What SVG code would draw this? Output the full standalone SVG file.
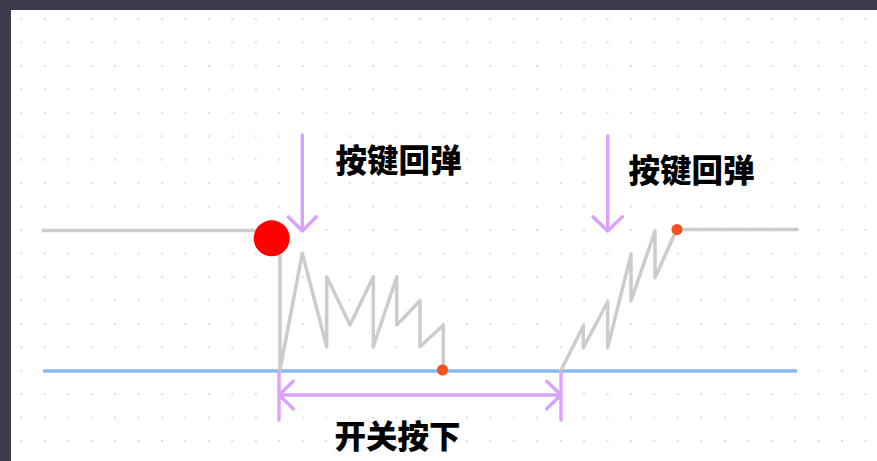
<svg xmlns="http://www.w3.org/2000/svg" width="877" height="461" viewBox="0 0 877 461">
<defs>
<pattern id="dotsAligned" patternUnits="userSpaceOnUse" x="20.3" y="18" width="23.45" height="23.45">
<rect x="0" y="0" width="2" height="2" fill="#dcdcdc"/>
</pattern>
</defs>
<style>
.sig{fill:none;stroke:#cccccc;stroke-width:3.5;stroke-linecap:round;stroke-linejoin:round}
.base{fill:none;stroke:#8ab8f7;stroke-width:3.5}
.arr{fill:none;stroke:#d9a2fc;stroke-width:3.4;stroke-linecap:round;stroke-linejoin:round}
.lbl{font-family:"Noto Sans CJK SC","Noto Sans",sans-serif;font-weight:900;font-size:31.5px;fill:#000}
</style>
<rect x="0" y="0" width="877" height="461" fill="#3d3a4b"/>
<rect x="11" y="10" width="866" height="451" fill="#ffffff"/>
<rect x="11" y="10" width="866" height="451" fill="url(#dotsAligned)"/>
<g id="connectors">
<line class="base" x1="43" y1="371" x2="797" y2="371"/>
<path class="sig" d="M43,230.5 H272 M280,238 V370 L302.3,253.3 L326.7,346.7 V276.7 L350,325 L373.3,276.7 V346.7 L396.7,276.7 V325 L420,300.7 V346.7 L443.3,325 V370"/>
<path class="sig" d="M560.7,371 L583.3,326 V347.7 L607.7,301.7 V347.7 L631,254.3 V301 L655,231 V277.7 L676.7,229.5 H797"/>
<path class="arr" d="M302.3,135 V231 M288.3,216.7 L302.3,231 L316.3,216.7"/>
<path class="arr" d="M607.7,136 V231 M593,216.7 L607.7,231 L622.4,216.7"/>
<path class="arr" d="M279,372 V420 M561,372 V420 M279,395 H561 M293.3,381.3 L279,395 L293.3,408.7 M546.7,381.3 L561,395 L546.7,408.7"/>
</g>
<g id="start-point"><circle cx="271.7" cy="238.3" r="18" fill="#ff0000"/></g>
<g id="end-point-1"><circle cx="442.5" cy="370" r="5.5" fill="#f4511e"/></g>
<g id="end-point-2"><circle cx="677" cy="229.5" r="5.5" fill="#f4511e"/></g>
<g id="label-bounce-1"><text class="lbl" x="335.5" y="172">按键回弹</text></g>
<g id="label-bounce-2"><text class="lbl" x="628.5" y="182">按键回弹</text></g>
<g id="label-press"><text class="lbl" x="334.5" y="448">开关按下</text></g>
</svg>
